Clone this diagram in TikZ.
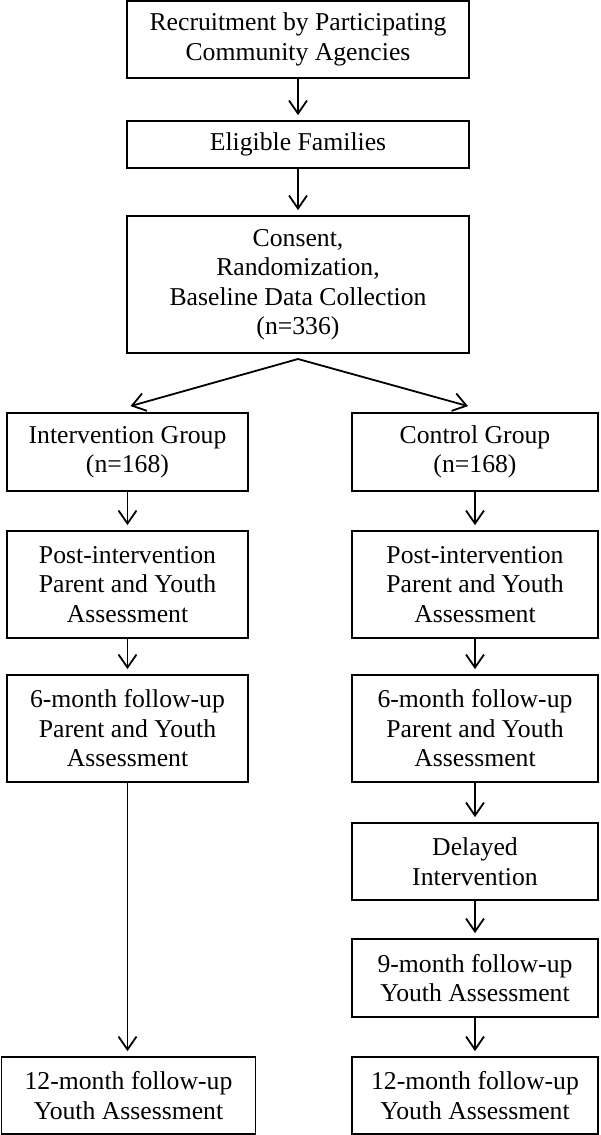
\documentclass[tikz,border=0pt]{standalone}
\usepackage{fontspec}
\setmainfont{Liberation Serif}
\usetikzlibrary{arrows.meta}

\begin{document}
\begin{tikzpicture}[x=1pt,y=1pt]
      \tikzstyle{every node}+=[inner sep=0pt]
      \tikzstyle{box}=[draw=black, line width=1.8pt, align=center, font=\fontsize{25.7}{29.5}\selectfont]
      \tikzstyle{arr}=[black, line width=1.8pt, -{Straight Barb[length=13pt,width=18pt,line width=1.8pt]}, shorten >=5pt]
      \useasboundingbox (0,0) rectangle (600,-1135);
      % top column
      \node [box, minimum width=342, minimum height=77] (recruit) at (298,-39.5) {Recruitment by Participating\\Community Agencies};
      \node [box, minimum width=342, minimum height=47] (eligible) at (298,-144.5) {Eligible Families};
      \node [box, minimum width=342, minimum height=137] (consent) at (298,-284.5) {Consent,\\Randomization,\\Baseline Data Collection\\(n=336)};
      % intervention column
      \node [box, minimum width=241, minimum height=78] (intgrp) at (127.5,-452) {Intervention Group\\(n=168)};
      \node [box, minimum width=241, minimum height=107] (intpost) at (127.5,-584.5) {Post-intervention\\Parent and Youth\\Assessment};
      \node [box, minimum width=241, minimum height=107] (intsix) at (127.5,-728.5) {6-month follow-up\\Parent and Youth\\Assessment};
      \node [box, minimum width=254, minimum height=77] (inttwelve) at (128.5,-1095.5) {12-month follow-up\\Youth Assessment};
      % control column
      \node [box, minimum width=246, minimum height=78] (ctlgrp) at (475,-452) {Control Group\\(n=168)};
      \node [box, minimum width=246, minimum height=107] (ctlpost) at (475,-584.5) {Post-intervention\\Parent and Youth\\Assessment};
      \node [box, minimum width=246, minimum height=107] (ctlsix) at (475,-728.5) {6-month follow-up\\Parent and Youth\\Assessment};
      \node [box, minimum width=246, minimum height=77] (delayed) at (475,-861.5) {Delayed\\Intervention};
      \node [box, minimum width=246, minimum height=78] (ctlnine) at (475,-978) {9-month follow-up\\Youth Assessment};
      \node [box, minimum width=246, minimum height=77] (ctltwelve) at (475,-1095.5) {12-month follow-up\\Youth Assessment};
      % arrows
      \draw [arr] (recruit) -- (eligible);
      \draw [arr] (eligible) -- (consent);
      \coordinate (split) at (298,-359);
      \draw [arr, shorten >=0pt] (split) -- ([xshift=3pt,yshift=6pt]intgrp.north);
      \draw [arr, shorten >=0pt] (split) -- ([xshift=-7pt,yshift=6pt]ctlgrp.north);
      \draw [arr] (intgrp) -- (intpost);
      \draw [arr] (intpost) -- (intsix);
      \draw [arr] (intsix) -- (intsix |- inttwelve.north);
      \draw [arr] (ctlgrp) -- (ctlpost);
      \draw [arr] (ctlpost) -- (ctlsix);
      \draw [arr] (ctlsix) -- (delayed);
      \draw [arr] (delayed) -- (ctlnine);
      \draw [arr] (ctlnine) -- (ctltwelve);
    \end{tikzpicture}
\end{document}
